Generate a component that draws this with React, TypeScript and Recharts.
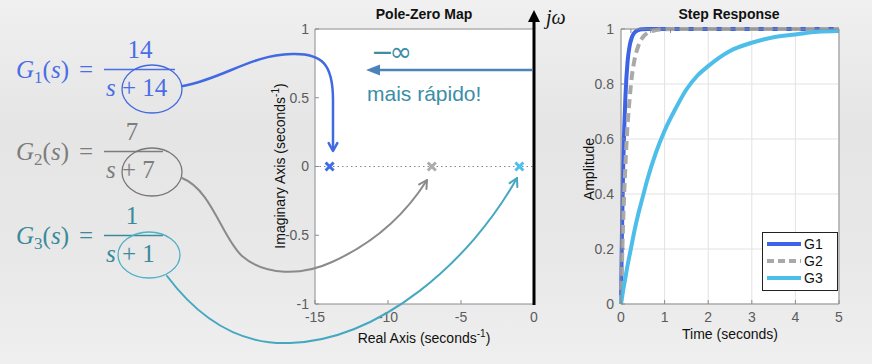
import React from 'react';
import { ScatterChart, Scatter, LineChart, Line, XAxis, YAxis, CartesianGrid, ReferenceLine, Legend } from 'recharts';

// pole-zero map
const poleNames = ['G1', 'G2', 'G3'];
const poleReal = [-14, -7, -1];
const poleColors = ['#3e6be8', '#acacac', '#4cc0ec'];
const realTicks = [-15, -10, -5, 0];
const imagTicks = [-1, -0.5, 0, 0.5, 1];

// step response
const time = [0, 0.02, 0.05, 0.1, 0.15, 0.2, 0.25, 0.3, 0.4, 0.5, 0.6, 0.8, 1, 1.25, 1.5, 1.75, 2, 2.5, 3, 3.5, 4, 4.5, 5];
const g1 = [0, 0.24, 0.5, 0.75, 0.88, 0.94, 0.97, 0.985, 0.996, 0.999, 1, 1, 1, 1, 1, 1, 1, 1, 1, 1, 1, 1, 1];
const g2 = [0, 0.13, 0.3, 0.5, 0.65, 0.75, 0.83, 0.88, 0.94, 0.97, 0.985, 0.996, 0.999, 1, 1, 1, 1, 1, 1, 1, 1, 1, 1];
const g3 = [0, 0.02, 0.05, 0.095, 0.14, 0.18, 0.22, 0.26, 0.33, 0.39, 0.45, 0.55, 0.63, 0.71, 0.78, 0.83, 0.865, 0.92, 0.95, 0.97, 0.98, 0.99, 0.993];
const timeTicks = [0, 1, 2, 3, 4, 5];
const ampTicks = [0, 0.2, 0.4, 0.6, 0.8, 1];

const stepSeries = [
  { key: 'g1', name: 'G1', color: '#3d63e6', dash: undefined },
  { key: 'g2', name: 'G2', color: '#a9a9a9', dash: '9 5' },
  { key: 'g3', name: 'G3', color: '#4dbde9', dash: undefined },
];

const stepData = time.map((t, i) => ({ t, g1: g1[i], g2: g2[i], g3: g3[i] }));

const FONT = '"Liberation Sans", Arial, Helvetica, sans-serif';
const SERIF = '"Liberation Serif", "Times New Roman", serif';
const tickStyle = { fontSize: 14, fill: '#5c5c5c', fontFamily: FONT };
const axisGray = '#8c8c8c';
const noTick = () => <g />;

const xMark = (color: string) => (p: any) => {
  const { cx, cy } = p;
  return <path d={`M${cx - 4},${cy - 4}L${cx + 4},${cy + 4}M${cx - 4},${cy + 4}L${cx + 4},${cy - 4}`} stroke={color} strokeWidth={3} fill="none" />;
};

function head(tx: number, ty: number, fx: number, fy: number, len = 9) {
  const a = Math.atan2(ty - fy, tx - fx);
  const p1 = [tx - len * Math.cos(a - 0.5), ty - len * Math.sin(a - 0.5)];
  const p2 = [tx - len * Math.cos(a + 0.5), ty - len * Math.sin(a + 0.5)];
  return `M${p1[0]},${p1[1]}L${tx},${ty}L${p2[0]},${p2[1]}`;
}

function Eq({ y, idx, num, den, color, numX, barEnd, ell }: any) {
  return (
    <g fill={color} fontFamily={SERIF} fontSize={25}>
      <text x={16} y={y}>
        <tspan fontStyle="italic">G</tspan>
        <tspan fontSize={17} dy={5}>{idx}</tspan>
        <tspan dy={-5}>(</tspan>
        <tspan fontStyle="italic">s</tspan>
        <tspan>)</tspan>
      </text>
      <text x={86} y={y} textAnchor="middle">=</text>
      <text x={numX} y={y - 20} textAnchor="middle">{num}</text>
      <line x1={104} x2={barEnd} y1={y - 8.5} y2={y - 8.5} stroke={color} strokeWidth={1.6} />
      <text x={106} y={y + 18}>
        <tspan fontStyle="italic">s</tspan>
        <tspan> + {den}</tspan>
      </text>
      <ellipse cx={ell[0]} cy={ell[1]} rx={ell[2]} ry={ell[3]} fill="none" stroke={ell[4]} strokeWidth={1.3} />
    </g>
  );
}

function StepLegend() {
  return (
    <div style={{ width: 74, height: 57, border: '1px solid #222', background: '#fff' }}>
      <svg width={74} height={57}>
        {stepSeries.map((s, i) => (
          <g key={s.key}>
            <line x1={4} x2={38} y1={11 + i * 17} y2={11 + i * 17} stroke={s.color} strokeWidth={4} strokeDasharray={s.dash ? '7 4' : undefined} />
            <text x={41} y={16 + i * 17} fontSize={14} fontFamily={FONT} fill="#111">{s.name}</text>
          </g>
        ))}
      </svg>
    </div>
  );
}

export default function App() {
  return (
    <div style={{ position: 'absolute', left: 0, top: 0, width: 872, height: 364, overflow: 'hidden', fontFamily: FONT,
      background: 'linear-gradient(180deg, #f0f0f0 0%, #e5e5e5 35%, #e8e8e8 70%, #efefef 100%)' }}>
      <div style={{ position: 'absolute', left: 250, top: 0 }}>
        <ScatterChart width={320} height={364} margin={{ top: 28, right: 36, bottom: 59, left: 64 }}>
          <CartesianGrid horizontal={false} vertical={false} fill="#fff" />
          <XAxis type="number" dataKey="re" domain={[-15, 0]} ticks={realTicks} height={1} tick={tickStyle}
            axisLine={{ stroke: axisGray }} tickLine={{ stroke: axisGray }} tickSize={-4} tickMargin={12} />
          <XAxis xAxisId="top" orientation="top" type="number" domain={[-15, 0]} ticks={realTicks} height={1} tick={noTick}
            axisLine={{ stroke: axisGray }} tickLine={{ stroke: axisGray }} tickSize={-4} />
          <YAxis type="number" dataKey="im" domain={[-1, 1]} ticks={imagTicks} width={1} tick={tickStyle}
            axisLine={{ stroke: axisGray }} tickLine={{ stroke: axisGray }} tickSize={-4} tickMargin={10} />
          <ReferenceLine y={0} stroke="#888" strokeDasharray="1.5 3" />
          {poleReal.map((re, i) => (
            <Scatter key={poleNames[i]} name={poleNames[i]} data={[{ re, im: 0 }]} shape={xMark(poleColors[i])} isAnimationActive={false} />
          ))}
        </ScatterChart>
      </div>

      <div style={{ position: 'absolute', left: 540, top: 0 }}>
        <LineChart width={332} height={364} data={stepData} margin={{ top: 28, right: 32, bottom: 59, left: 80 }}>
          <CartesianGrid stroke="#e2e2e2" fill="#fff" />
          <XAxis type="number" dataKey="t" domain={[0, 5]} ticks={timeTicks} height={1} tick={tickStyle}
            axisLine={{ stroke: axisGray }} tickLine={{ stroke: axisGray }} tickSize={-4} tickMargin={12} />
          <XAxis xAxisId="top" orientation="top" type="number" domain={[0, 5]} ticks={timeTicks} height={1} tick={noTick}
            axisLine={{ stroke: axisGray }} tickLine={{ stroke: axisGray }} tickSize={-4} />
          <YAxis type="number" domain={[0, 1]} ticks={ampTicks} width={1} tick={tickStyle}
            axisLine={{ stroke: axisGray }} tickLine={{ stroke: axisGray }} tickSize={-4} tickMargin={11} />
          <YAxis yAxisId="right" orientation="right" type="number" domain={[0, 1]} ticks={ampTicks} width={1} tick={noTick}
            axisLine={{ stroke: axisGray }} tickLine={{ stroke: axisGray }} tickSize={-4} />
          {stepSeries.map(s => (
            <Line key={s.key} dataKey={s.key} name={s.name} type="monotone" stroke={s.color} strokeWidth={4}
              strokeDasharray={s.dash} dot={false} isAnimationActive={false} />
          ))}
          <Legend layout="vertical" align="center" verticalAlign="middle" content={() => <StepLegend />}
            wrapperStyle={{ left: 222, top: 232, width: 76, height: 59 }} />
        </LineChart>
      </div>

      <svg width={872} height={364} style={{ position: 'absolute', left: 0, top: 0, pointerEvents: 'none' }}>
        {/* titles and axis labels */}
        <g fontFamily={FONT} fill="#111">
          <text x={424} y={19} fontSize={14} fontWeight="bold" textAnchor="middle">Pole-Zero Map</text>
          <text x={729} y={19} fontSize={14} fontWeight="bold" textAnchor="middle">Step Response</text>
          <text x={424} y={343} fontSize={14} textAnchor="middle">
            Real Axis (seconds<tspan fontSize={10} dy={-6}>-1</tspan><tspan dy={6}>)</tspan>
          </text>
          <text x={730} y={339} fontSize={14} textAnchor="middle">Time (seconds)</text>
          <text transform="translate(285,166) rotate(-90)" fontSize={14} textAnchor="middle">
            Imaginary Axis (seconds<tspan fontSize={10} dy={-6}>-1</tspan><tspan dy={6}>)</tspan>
          </text>
          <text transform="translate(594,169) rotate(-90)" fontSize={14} textAnchor="middle">Amplitude</text>
        </g>

        {/* j-omega axis */}
        <line x1={534} x2={534} y1={305} y2={20} stroke="#000" strokeWidth={3} />
        <path d="M528,22L534,10L540,22Z" fill="#000" />
        <text x={546} y={24} fontSize={20} fontFamily={SERIF} fontStyle="italic" fill="#111">jω</text>

        {/* faster arrow */}
        <text x={371} y={61} fontSize={27} fontFamily='"DejaVu Sans", sans-serif' fill="#3d8ea5" letterSpacing={-4}>−∞</text>
        <line x1={533} x2={376} y1={70} y2={70} stroke="#4b82b9" strokeWidth={2.5} />
        <path d="M366,70L380,64.5L380,75.5Z" fill="#4b82b9" />
        <text x={367} y={101} fontSize={21} fontFamily={FONT} fill="#3b8ea6">mais rápido!</text>

        {/* transfer functions */}
        <Eq y={78} idx="1" num="14" den="14" color="#4a6ee6" numX={140} barEnd={175} ell={[152, 89, 30, 24, '#4169e1']} />
        <Eq y={160} idx="2" num="7" den="7" color="#7d7d7d" numX={132} barEnd={163} ell={[152, 172, 30, 24, '#777']} />
        <Eq y={244} idx="3" num="1" den="1" color="#3a8a9a" numX={132} barEnd={163} ell={[149, 255, 31, 23, '#4fb0c6']} />

        {/* connectors */}
        <g fill="none" strokeLinecap="round" strokeLinejoin="round">
          <path d="M183,86 C225,78 250,55 292,54 C322,53 333,64 333,100 L333,150" stroke="#4169e1" strokeWidth={2.5} />
          <path d={head(333, 151, 333, 120)} stroke="#4169e1" strokeWidth={2.5} />
          <path d="M182,178 C212,190 222,238 242,256 C265,276 302,276 332,262 C372,244 405,215 427,180" stroke="#8a8a8a" strokeWidth={2} />
          <path d={head(427, 180, 405, 215)} stroke="#8a8a8a" strokeWidth={2} />
          <path d="M167,276 C200,320 240,345 290,343 C380,340 470,262 517,178" stroke="#45a8c0" strokeWidth={2} />
          <path d={head(517, 178, 500, 212)} stroke="#45a8c0" strokeWidth={2} />
        </g>
      </svg>
    </div>
  );
}
